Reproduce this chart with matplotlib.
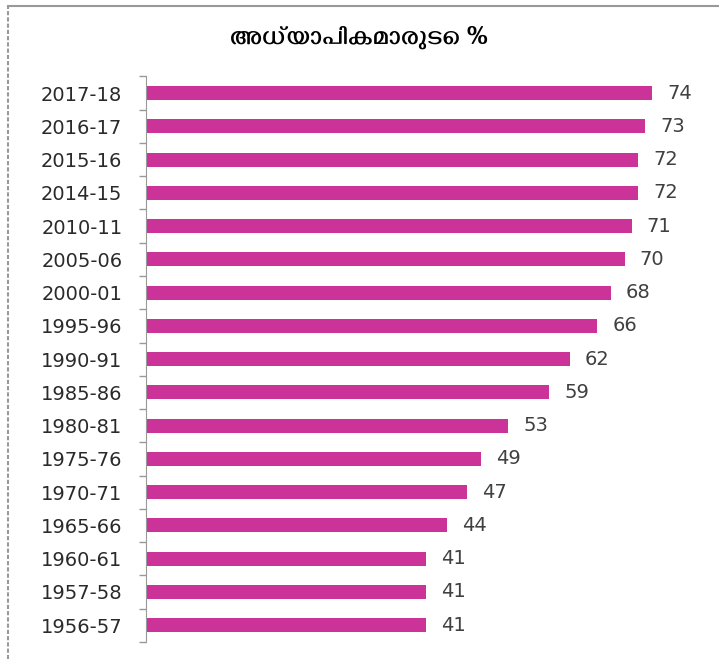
import os

import matplotlib
matplotlib.use("Agg")
import matplotlib.pyplot as plt
from matplotlib import font_manager
import numpy as np

# Data (top to bottom as shown)
years = [
    "2017-18", "2016-17", "2015-16", "2014-15", "2010-11", "2005-06",
    "2000-01", "1995-96", "1990-91", "1985-86", "1980-81", "1975-76",
    "1970-71", "1965-66", "1960-61", "1957-58", "1956-57",
]
pct_women_teachers = [74, 73, 72, 72, 71, 70, 68, 66, 62, 59, 53, 49, 47, 44, 41, 41, 41]
title = "അധ്യാപികമാരുടെ %"

BAR_COLOR = "#CC3399"
TEXT_COLOR = "#404040"

# Malayalam-capable font for the title
ml_family = "DejaVu Sans"
for p in ["/usr/share/fonts/truetype/google-fonts/Gayathri-Bold.ttf",
          "/usr/share/fonts/truetype/google-fonts/Manjari-Bold.ttf"]:
    if os.path.exists(p):
        font_manager.fontManager.addfont(p)
        ml_family = font_manager.FontProperties(fname=p).get_name()
        break

fig = plt.figure(figsize=(7.19, 6.59), dpi=100)
ax = fig.add_axes([0.203, 0.026, 0.761, 0.858])

ys = np.arange(len(years))
ax.barh(ys, pct_women_teachers, height=0.42, color=BAR_COLOR)
ax.set_ylim(len(years) - 0.5, -0.5)
ax.set_xlim(0, 80)

ax.set_yticks(ys)
ax.set_yticklabels(years, fontsize=14, color="#2a2a2a")
ax.set_yticks(np.arange(len(years) + 1) - 0.5, minor=True)
ax.tick_params(axis="y", which="major", length=0, pad=17)
ax.tick_params(axis="y", which="minor", length=5, color="#999999", width=1)
ax.set_xticks([])
for s in ["top", "right", "bottom"]:
    ax.spines[s].set_visible(False)
ax.spines["left"].set_color("#999999")

for y, v in zip(ys, pct_women_teachers):
    ax.text(v + 2.2, y, str(v), va="center", ha="left", fontsize=14, color=TEXT_COLOR)

fig.text(0.5, 0.944, title, ha="center", va="center", fontsize=19,
         fontweight="bold", family=[ml_family, "DejaVu Sans"], color="black")

# outer chart frame (top and left edges visible in the reference crop)
fig.add_artist(plt.Line2D([0.011, 1.0], [0.991, 0.991], color="#999999", lw=1.5,
                          transform=fig.transFigure))
fig.add_artist(plt.Line2D([0.011, 0.011], [0.0, 0.991], color="#999999", lw=1.5,
                          linestyle=(0, (2, 1)), transform=fig.transFigure))

fig.savefig("out.png", dpi=100)
